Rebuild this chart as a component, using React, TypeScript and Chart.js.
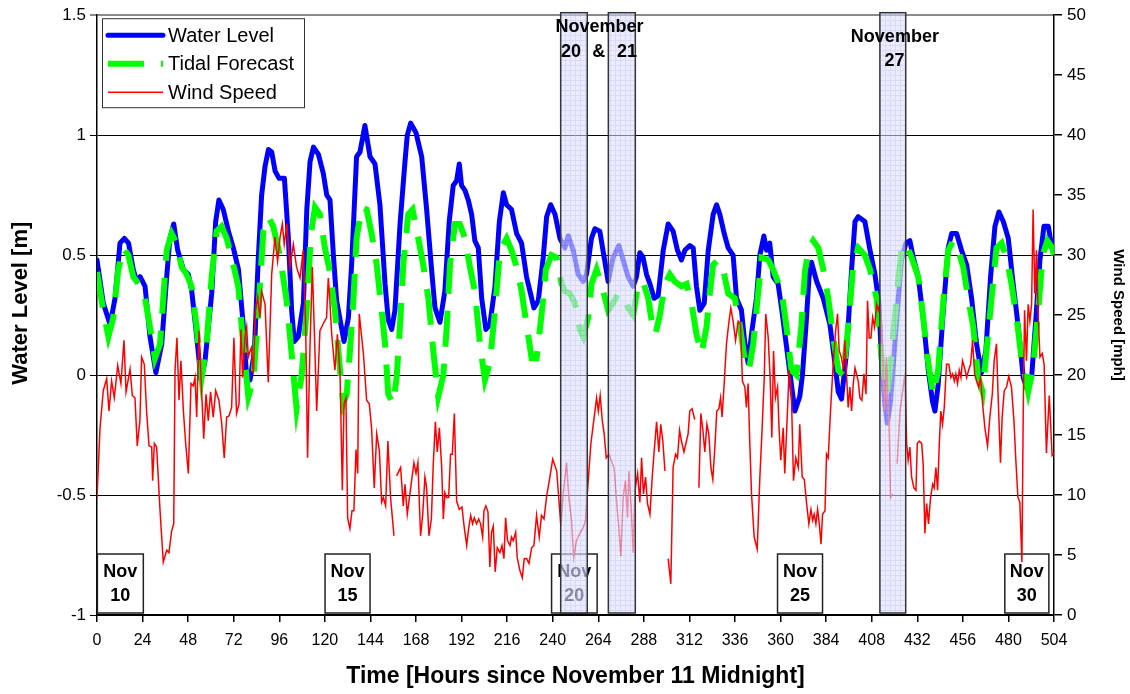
import React, { useEffect, useRef } from 'react';
import { Chart, registerables } from 'chart.js';

Chart.register(...registerables);

const FONT = '"Liberation Sans", Arial, Helvetica, sans-serif';

const xTicks = [0, 24, 48, 72, 96, 120, 144, 168, 192, 216, 240, 264, 288, 312, 336, 360, 384, 408, 432, 456, 480, 504];
const waterTicks = [-1, -0.5, 0, 0.5, 1, 1.5];
const windTicks = [0, 5, 10, 15, 20, 25, 30, 35, 40, 45, 50];

// [hour, metres]
const waterLevel: [number, number][] = [
  [0, 0.48], [3.3, 0.3], [6.9, 0.21], [9.5, 0.32], [12.1, 0.55], [14.4, 0.57], [16.6, 0.55], [19.1, 0.44], [20.9, 0.39], [22.7, 0.41],
  [25.3, 0.37], [27.9, 0.16], [31.0, 0.01], [34.1, 0.13], [36.7, 0.41], [38.4, 0.57], [40.4, 0.63], [42.5, 0.52], [45.5, 0.44], [48.1, 0.42],
  [49.9, 0.35], [52.5, 0.16], [54.8, -0.02], [56.9, 0.06], [60.4, 0.34], [62.5, 0.64], [64.2, 0.73], [66.5, 0.69], [69.2, 0.6], [71.8, 0.53],
  [74.5, 0.44], [77.1, 0.2], [78.8, -0.01], [80.6, -0.02], [82.9, 0.1], [84.9, 0.48], [86.7, 0.75], [88.5, 0.87], [90.3, 0.94], [92.0, 0.93],
  [93.8, 0.85], [95.9, 0.82], [98.7, 0.82], [100.8, 0.57], [102.5, 0.27], [103.9, 0.14], [106.0, 0.16], [108.7, 0.3], [110.5, 0.69], [112.2, 0.89],
  [114.0, 0.95], [116.6, 0.92], [119.2, 0.84], [121.0, 0.75], [122.7, 0.73], [124.5, 0.5], [126.2, 0.31], [130.1, 0.14], [132.4, 0.24], [134.1, 0.46],
  [136.7, 0.91], [138.5, 0.93], [141.1, 1.04], [143.8, 0.91], [146.4, 0.88], [149.0, 0.71], [151.7, 0.38], [153.4, 0.23], [155.2, 0.19], [156.9, 0.27],
  [159.6, 0.63], [162.2, 0.89], [163.4, 1.0], [165.2, 1.05], [168.0, 1.01], [169.2, 0.97], [171.0, 0.91], [173.6, 0.69], [176.2, 0.44], [178.0, 0.28],
  [180.6, 0.22], [183.2, 0.35], [185.5, 0.64], [187.6, 0.79], [189.4, 0.81], [190.8, 0.88], [192.0, 0.79], [193.8, 0.77], [195.5, 0.73], [197.3, 0.67],
  [199.0, 0.56], [200.8, 0.53], [202.6, 0.32], [204.8, 0.19], [206.9, 0.21], [209.6, 0.37], [211.9, 0.64], [214.0, 0.76], [215.7, 0.71], [218.3, 0.69],
  [221.0, 0.59], [223.6, 0.55], [226.2, 0.41], [228.0, 0.35], [230.1, 0.28], [232.4, 0.31], [235.0, 0.49], [236.8, 0.66], [238.9, 0.71], [241.2, 0.67],
  [243.8, 0.57], [246.4, 0.53], [248.2, 0.58], [250.8, 0.52], [253.4, 0.42], [256.1, 0.39], [257.8, 0.42], [260.4, 0.57], [262.2, 0.61], [264.8, 0.6],
  [267.1, 0.49], [269.2, 0.39], [271.8, 0.49], [274.8, 0.54], [277.1, 0.48], [279.7, 0.41], [282.4, 0.37], [284.1, 0.41], [285.9, 0.51], [287.6, 0.49],
  [289.4, 0.42], [291.2, 0.38], [293.4, 0.32], [295.5, 0.33], [298.2, 0.52], [300.8, 0.63], [303.4, 0.6], [305.7, 0.52], [307.8, 0.48], [309.6, 0.52],
  [312.2, 0.54], [314.0, 0.53], [315.7, 0.37], [317.5, 0.27], [319.8, 0.3], [321.9, 0.52], [324.5, 0.67], [326.3, 0.71], [328.0, 0.67], [330.3, 0.59],
  [332.4, 0.53], [335.0, 0.5], [336.8, 0.32], [339.4, 0.27], [341.2, 0.13], [342.9, 0.05], [345.0, 0.19], [347.3, 0.32], [349.1, 0.5], [351.2, 0.58],
  [352.6, 0.52], [354.3, 0.55], [356.1, 0.41], [358.7, 0.38], [360.5, 0.28], [363.1, 0.12], [365.4, -0.02], [367.5, -0.15], [370.1, -0.09], [371.5, 0.0],
  [373.5, 0.22], [375.0, 0.41], [376.3, 0.47], [379.0, 0.39], [382.5, 0.32], [386.0, 0.21], [388.6, 0.05], [390.4, -0.07], [392.1, -0.1], [394.8, 0.1],
  [397.4, 0.44], [399.2, 0.64], [400.9, 0.66], [404.4, 0.64], [407.1, 0.52], [409.7, 0.42], [411.8, 0.3], [413.2, 0.05], [414.9, -0.12], [416.2, -0.2],
  [417.9, -0.11], [420.2, 0.13], [422.0, 0.32], [423.7, 0.48], [426.0, 0.55], [428.1, 0.56], [429.9, 0.49], [432.5, 0.41], [435.1, 0.24], [437.8, 0.02],
  [440.0, -0.11], [441.3, -0.15], [443.0, -0.04], [445.7, 0.27], [448.3, 0.53], [450.1, 0.59], [452.7, 0.59], [455.3, 0.52], [458.0, 0.46], [460.6, 0.32],
  [463.2, 0.13], [465.8, 0.01], [468.1, 0.1], [470.6, 0.41], [472.9, 0.62], [475.0, 0.68], [477.3, 0.64], [479.9, 0.57], [482.5, 0.38], [485.2, 0.2],
  [487.8, -0.01], [489.9, -0.06], [492.2, -0.01], [494.5, 0.24], [496.6, 0.48], [498.7, 0.62], [501.0, 0.62], [502.5, 0.55], [504, 0.56],
];

// [hour, metres]
const tidalForecast: [number, number][] = [
  [0, 0.43], [3.3, 0.27], [6.0, 0.16], [8.6, 0.24], [11.2, 0.44], [13.9, 0.53], [16.5, 0.5], [19.1, 0.41], [21.8, 0.38], [25.3, 0.32],
  [27.9, 0.2], [30.5, 0.07], [33.2, 0.13], [34.9, 0.32], [36.7, 0.52], [39.3, 0.59], [41.9, 0.55], [44.6, 0.45], [47.2, 0.42], [49.8, 0.37],
  [52.5, 0.2], [55.1, -0.01], [57.7, 0.13], [60.4, 0.41], [63.0, 0.6], [65.6, 0.62], [68.3, 0.57], [70.9, 0.49], [74.4, 0.37], [77.0, 0.13],
  [79.7, -0.09], [82.3, -0.02], [85.0, 0.27], [87.6, 0.6], [90.2, 0.66], [92.8, 0.62], [96.3, 0.5], [99.9, 0.31], [102.5, 0.09], [105.1, -0.14],
  [107.8, 0.0], [110.4, 0.27], [112.7, 0.59], [114.8, 0.7], [117.4, 0.67], [120.0, 0.53], [122.7, 0.43], [125.3, 0.27], [128.0, 0.02], [129.7, -0.12],
  [131.5, -0.08], [133.2, 0.1], [135.0, 0.31], [136.7, 0.57], [139.4, 0.7], [142.0, 0.69], [144.6, 0.59], [147.3, 0.46], [149.9, 0.27], [151.7, 0.13],
  [153.4, -0.08], [156.0, -0.12], [157.8, -0.01], [159.6, 0.21], [161.3, 0.46], [163.9, 0.67], [166.2, 0.69], [169.2, 0.57], [171.8, 0.46], [174.5, 0.32],
  [177.1, 0.1], [179.7, -0.09], [182.4, 0.0], [184.1, 0.19], [185.9, 0.46], [188.5, 0.63], [191.1, 0.63], [193.8, 0.57], [196.4, 0.45], [199.0, 0.35],
  [201.7, 0.13], [204.3, -0.02], [206.9, 0.05], [209.6, 0.27], [212.2, 0.52], [215.7, 0.57], [218.3, 0.52], [221.0, 0.45], [223.6, 0.35], [226.2, 0.21],
  [228.9, 0.07], [231.5, 0.07], [234.1, 0.25], [236.4, 0.44], [239.4, 0.5], [242.0, 0.49], [244.7, 0.38], [246.4, 0.35], [249.0, 0.34], [251.7, 0.3],
  [254.3, 0.19], [256.1, 0.16], [258.7, 0.24], [260.4, 0.38], [263.1, 0.44], [266.6, 0.35], [269.2, 0.27], [271.8, 0.3], [274.5, 0.34], [277.1, 0.33],
  [279.7, 0.28], [282.4, 0.25], [285.0, 0.38], [287.6, 0.39], [290.3, 0.32], [292.4, 0.21], [294.1, 0.17], [296.4, 0.25], [299.1, 0.38], [301.7, 0.42],
  [304.3, 0.39], [307.8, 0.37], [310.5, 0.38], [313.1, 0.3], [315.7, 0.17], [318.4, 0.09], [321.0, 0.2], [322.7, 0.34], [324.5, 0.46], [327.1, 0.48],
  [329.8, 0.44], [332.4, 0.34], [335.9, 0.32], [338.5, 0.21], [341.2, 0.06], [343.3, 0.02], [345.6, 0.13], [347.3, 0.27], [350.0, 0.49], [353.5, 0.48],
  [356.1, 0.44], [360.5, 0.35], [363.1, 0.2], [365.7, 0.02], [368.4, 0.0], [371.0, 0.21], [372.8, 0.43], [374.6, 0.52], [377.2, 0.56], [379.9, 0.53],
  [382.5, 0.44], [385.1, 0.32], [387.7, 0.16], [390.4, 0.02], [393.0, 0.0], [395.6, 0.2], [398.3, 0.46], [400.9, 0.53], [404.4, 0.5], [407.1, 0.44],
  [410.6, 0.32], [413.2, 0.07], [416.2, -0.08], [419.0, 0.13], [421.1, 0.32], [423.7, 0.53], [426.0, 0.55], [429.0, 0.49], [432.5, 0.41], [435.1, 0.24],
  [437.8, 0.05], [440.4, -0.08], [443.0, 0.02], [445.7, 0.31], [448.3, 0.52], [450.9, 0.56], [453.6, 0.52], [456.2, 0.45], [458.8, 0.32], [461.5, 0.2],
  [464.1, -0.01], [466.4, -0.07], [468.8, 0.13], [471.1, 0.32], [473.7, 0.53], [476.4, 0.55], [479.0, 0.49], [481.6, 0.38], [484.3, 0.24], [486.9, 0.07],
  [490.4, -0.07], [493.0, 0.03], [495.7, 0.27], [498.0, 0.5], [500.5, 0.56], [503.0, 0.53], [504, 0.5],
];

// [hour, mph]  (null = gap in record)
const windSpeed: [number, number | null][] = [
  [0, 9.8], [1.6, 15.6], [3.3, 18.7], [5.1, 19.7], [6.3, 17.0], [7.7, 19.5], [9.1, 18.1], [10.9, 20.8], [12.6, 19.3], [14.2, 22.9],
  [15.3, 18.6], [17.4, 20.5], [18.6, 18.3], [20.0, 18.1], [21.2, 14.1], [22.6, 16.2], [23.5, 21.5], [24.9, 20.9], [26.1, 17.0], [27.4, 14.1],
  [28.8, 14.0], [29.3, 11.2], [30.2, 14.3], [31.4, 14.0], [33.2, 8.7], [34.9, 4.4], [36.7, 5.4], [37.9, 5.2], [39.3, 7.0], [40.4, 7.6],
  [41.1, 20.4], [42.1, 23.1], [43.2, 17.9], [44.2, 21.2], [45.5, 17.0], [46.7, 14.3], [48.1, 11.8], [49.5, 19.3], [50.7, 19.1], [51.6, 19.8],
  [52.5, 16.5], [53.7, 23.7], [55.1, 18.7], [56.2, 14.7], [57.4, 18.4], [58.6, 16.2], [59.8, 18.6], [61.2, 16.5], [62.5, 18.7], [64.2, 17.9],
  [65.6, 16.1], [67.0, 13.1], [68.3, 16.5], [69.5, 16.6], [70.9, 17.3], [72.1, 23.1], [73.5, 16.8], [74.8, 17.6], [75.8, 23.8], [76.7, 19.8],
  [77.9, 23.1], [78.8, 24.0], [79.7, 21.5], [80.6, 22.0], [81.4, 22.3], [82.3, 20.1], [83.5, 25.4], [84.6, 26.5], [85.8, 24.8], [86.7, 27.0],
  [88.5, 25.9], [90.2, 19.4], [92.0, 28.4], [93.7, 31.5], [95.1, 29.5], [96.4, 31.5], [97.6, 32.6], [98.6, 30.9], [100.0, 32.6], [101.6, 29.0],
  [103.4, 30.9], [105.1, 29.0], [106.9, 28.1], [108.6, 30.4], [109.9, 24.0], [110.9, 13.1], [112.2, 22.6], [113.4, 29.0], [114.4, 24.0], [115.7, 17.0],
  [117.4, 23.7], [119.2, 24.3], [120.9, 24.8], [121.8, 28.1], [122.7, 26.0], [123.6, 23.4], [125.3, 20.4], [126.6, 23.4], [128.0, 20.1], [129.2, 10.4],
  [130.1, 17.6], [131.1, 18.1], [132.0, 8.1], [133.2, 7.2], [134.3, 8.7], [135.3, 8.7], [136.4, 13.8], [137.3, 11.8], [138.1, 25.1], [140.3, 21.8],
  [142.0, 17.9], [143.4, 17.6], [144.6, 15.6], [146.0, 10.6], [147.3, 15.1], [148.7, 13.7], [149.9, 9.4], [150.8, 9.8], [152.0, 9.1], [153.2, 14.5],
  [154.6, 9.8], [156.4, 6.6], [157.1, null], [157.8, 11.6], [159.9, 12.3], [161.3, 9.1], [162.2, 10.9], [163.4, 8.4], [165.2, 10.6], [166.9, 12.7],
  [168.0, 11.8], [169.0, 12.7], [170.4, 6.6], [171.5, 8.3], [172.7, 11.5], [173.6, 10.6], [174.8, 6.6], [176.1, 8.0], [177.1, 12.6], [178.2, 16.1],
  [179.2, 13.6], [180.3, 15.6], [181.5, 12.4], [182.4, 8.0], [183.2, 10.2], [184.1, 9.8], [185.2, 9.8], [186.2, 13.4], [187.1, 13.4], [188.2, 16.8],
  [189.4, 9.5], [190.8, 8.8], [192.2, 9.0], [193.4, 7.3], [194.7, 5.8], [195.7, 7.2], [196.8, 8.3], [197.8, 7.6], [198.7, 8.1], [199.9, 7.6],
  [201.0, 8.0], [202.0, 7.6], [203.1, 6.5], [203.8, 8.7], [204.8, 9.1], [205.9, 8.6], [206.9, 4.0], [207.8, 6.9], [208.7, 7.4], [209.7, 3.6],
  [210.8, 5.6], [212.2, 5.2], [213.3, 5.8], [214.3, 4.7], [215.2, 8.1], [216.2, 6.2], [217.5, 5.8], [218.3, 6.5], [219.2, 6.2], [220.5, 6.9],
  [221.3, 4.8], [222.7, 3.7], [224.0, 3.1], [225.0, 4.7], [226.2, 4.7], [227.5, 4.3], [228.9, 5.6], [230.1, 5.8], [231.5, 8.3], [232.9, 6.5],
  [234.1, 8.3], [235.4, 8.0], [236.8, 9.9], [238.2, 11.2], [240.0, 13.0], [242.1, 12.0], [243.4, 9.3], [244.3, 7.4], [245.5, 10.1], [247.3, 12.7],
  [248.5, 9.8], [249.9, 7.9], [251.1, 4.8], [252.5, 6.2], [254.3, 6.8], [256.1, 7.3], [257.3, 7.9], [258.7, 11.2], [260.1, 14.3], [261.3, 15.8],
  [263.1, 18.1], [264.0, 17.0], [265.0, 18.3], [266.1, 16.2], [267.1, 15.1], [268.2, 13.1], [269.6, 13.4], [272.4, 12.2], [273.6, 9.5], [274.8, 7.3],
  [275.9, 4.9], [277.1, 9.8], [278.3, 11.2], [279.4, 8.1], [280.1, 12.0], [281.2, 9.3], [282.4, 5.2], [283.3, 10.4], [284.7, 11.8], [285.9, 9.4],
  [286.8, 13.1], [287.8, 10.1], [288.9, 11.5], [289.9, 9.3], [291.2, 8.4], [292.4, 11.5], [293.4, 13.6], [294.7, 16.1], [295.9, 13.6], [296.9, 15.9],
  [298.0, 14.5], [299.1, 12.0], [300.0, null], [300.8, 4.7], [302.2, 2.6], [303.4, 12.3], [304.7, 13.4], [305.7, 13.1], [306.8, 15.4], [307.8, 14.5],
  [309.1, 13.6], [310.3, 14.4], [311.3, 15.1], [312.2, 17.0], [313.4, 17.2], [314.8, 16.3], [316.0, null], [317.0, 10.6], [318.0, 16.8], [319.1, 15.4],
  [320.1, 13.6], [321.2, 15.9], [322.2, 15.1], [323.3, 12.3], [324.3, 11.3], [325.4, 14.0], [326.4, 17.0], [327.5, 17.2], [328.4, 18.1], [329.2, 16.5],
  [330.3, 19.3], [331.5, 22.6], [332.7, 24.3], [333.8, 25.6], [335.0, 24.5], [336.3, 22.9], [337.7, 24.5], [338.9, 24.3], [339.9, 19.5], [341.2, 19.0],
  [342.0, 17.3], [342.9, 19.3], [343.8, 14.3], [344.7, 10.1], [346.1, 6.5], [347.7, 5.5], [349.1, 11.5], [350.3, 15.6], [351.4, 19.8], [352.2, 25.1],
  [353.5, 23.1], [354.5, 19.8], [355.4, 14.8], [356.3, 22.0], [357.3, 18.1], [358.4, 19.0], [359.2, 15.6], [360.1, 12.9], [361.4, 15.6], [362.2, 11.8],
  [363.5, 16.5], [364.5, 20.4], [365.7, 18.4], [366.8, 11.2], [368.0, 13.1], [369.3, 12.3], [370.1, 15.9], [371.4, 11.5], [372.5, 11.3], [373.7, 9.3],
  [374.9, 7.6], [376.0, 8.8], [376.9, 7.9], [377.7, 8.4], [378.6, 7.6], [379.5, 8.8], [380.4, 7.6], [381.3, 5.9], [382.1, 8.4], [383.4, 8.7],
  [384.2, 13.4], [385.1, 13.1], [386.3, 17.0], [387.7, 20.9], [389.0, 23.7], [390.0, 25.1], [390.9, 22.0], [392.0, 21.5], [393.0, 20.6], [393.9, 22.9],
  [394.8, 19.8], [395.6, 17.3], [396.5, 19.0], [397.4, 17.0], [398.3, 19.3], [399.2, 20.6], [400.0, 20.1], [400.9, 19.5], [401.8, 18.1], [402.8, 17.9],
  [403.9, 20.1], [405.0, 18.4], [405.8, 26.2], [406.7, 23.1], [407.6, 23.1], [408.5, 24.8], [409.5, 24.0], [410.6, 25.9], [411.4, 25.4], [412.3, 25.9],
  [413.2, 24.0], [414.1, 19.8], [415.0, 17.0], [415.8, 21.5], [416.5, 17.6], [417.2, 15.6], [417.9, 9.8], [419.0, 10.1], [420.0, null], [421.4, 12.6],
  [422.9, 17.0], [425.5, 20.1], [426.4, 14.3], [427.2, 12.9], [428.1, 14.0], [429.0, 11.5], [430.2, 10.6], [431.3, 10.4], [432.0, 14.3], [433.0, 14.5],
  [434.3, 14.3], [435.1, 12.6], [436.0, 6.8], [436.9, 9.3], [437.9, 7.6], [439.0, 9.8], [440.1, 10.9], [440.9, 10.6], [441.8, 12.3], [442.7, 10.4],
  [443.6, 14.3], [444.4, 17.0], [445.3, 15.9], [446.2, 17.3], [447.4, 20.9], [448.6, 20.9], [449.7, 19.8], [450.6, 20.1], [451.5, 19.5], [452.3, 20.1],
  [453.2, 19.3], [454.1, 20.4], [455.0, 19.8], [455.8, 21.2], [456.9, 20.6], [458.0, 19.8], [459.0, 20.4], [460.1, 20.9], [461.1, 22.9], [462.2, 20.1],
  [463.2, 19.5], [464.3, 19.0], [465.3, 19.8], [466.4, 17.6], [467.6, 15.6], [469.0, 14.1], [470.2, 16.5], [471.5, 18.4], [472.5, 21.2], [473.7, 22.6],
  [474.6, 18.1], [475.8, 12.7], [476.7, 16.5], [477.8, 18.7], [479.0, 19.0], [480.2, 19.9], [481.6, 19.0], [482.9, 16.2], [483.9, 12.9], [485.0, 9.8],
  [486.0, 9.4], [487.1, 4.4], [487.8, 17.0], [488.5, 25.4], [489.5, 21.2], [490.4, 25.9], [491.3, 24.5], [492.2, 25.9], [493.0, 33.8], [493.9, 26.8],
  [494.8, 30.4], [495.7, 24.8], [496.6, 21.5], [497.8, 21.8], [498.8, 20.9], [500.0, 13.5], [501.5, 18.3], [503.0, 13.3], [504, 13.5],
];

// shaded periods [start hour, end hour]
const highlightSpans: [number, number][] = [[244.2, 258.2], [269.3, 283.5], [412.3, 425.9]];

// calendar-day boxes along the bottom
const dayBoxes: { from: number; to: number; month: string; day: string }[] = [
  { from: 0.2, to: 24.4, month: 'Nov', day: '10' },
  { from: 120.1, to: 143.8, month: 'Nov', day: '15' },
  { from: 239.4, to: 263.4, month: 'Nov', day: '20' },
  { from: 358.4, to: 382.1, month: 'Nov', day: '25' },
  { from: 478.1, to: 501.3, month: 'Nov', day: '30' },
];

// annotation texts above shaded periods: hour position, row index
const spanLabels: { hour: number; row: number; text: string }[] = [
  { hour: 264.6, row: 0, text: 'November' },
  { hour: 249.6, row: 1, text: '20' },
  { hour: 264.3, row: 1, text: '&' },
  { hour: 279.1, row: 1, text: '21' },
  { hour: 420.2, row: 2, text: 'November' },
  { hour: 420.0, row: 3, text: '27' },
];
const spanLabelRowOffsets = [12, 36.5, 21.7, 46];

const seriesNames = ['Water Level', 'Tidal Forecast', 'Wind Speed'];
const seriesColors = ['#0000FF', '#00FF00', '#FF0000'];
const axisTitles = { x: 'Time [Hours since November 11 Midnight]', left: 'Water Level [m]', right: 'Wind Speed [mph]' };

function makePattern(ctx: CanvasRenderingContext2D) {
  const c = document.createElement('canvas');
  c.width = 5;
  c.height = 5;
  const p = c.getContext('2d')!;
  p.fillStyle = 'rgb(226,226,255)';
  p.fillRect(0, 0, 5, 5);
  p.fillStyle = 'rgb(196,196,252)';
  p.fillRect(0, 0, 5, 1);
  p.fillRect(0, 0, 1, 5);
  return ctx.createPattern(c, 'repeat');
}

const annotationPlugin = {
  id: 'floodAnnotations',
  beforeDatasetsDraw(chart: any) {
    const { ctx, chartArea, scales } = chart;
    const x = scales.x;
    ctx.save();
    for (const b of dayBoxes) {
      const l = x.getPixelForValue(b.from);
      const r = x.getPixelForValue(b.to);
      const top = chartArea.bottom - 61;
      const bottom = chartArea.bottom - 2;
      ctx.fillStyle = '#ffffff';
      ctx.fillRect(l, top, r - l, bottom - top);
      ctx.strokeStyle = '#222';
      ctx.lineWidth = 1.5;
      ctx.strokeRect(l, top, r - l, bottom - top);
      ctx.fillStyle = '#000';
      ctx.font = `bold 18px ${FONT}`;
      ctx.textAlign = 'center';
      ctx.textBaseline = 'middle';
      ctx.fillText(b.month, (l + r) / 2, chartArea.bottom - 43);
      ctx.fillText(b.day, (l + r) / 2, chartArea.bottom - 19);
    }
    ctx.restore();
  },
  afterDatasetsDraw(chart: any) {
    const { ctx, chartArea, scales } = chart;
    const x = scales.x;
    ctx.save();
    const pattern = makePattern(ctx);
    for (const [a, b] of highlightSpans) {
      const l = x.getPixelForValue(a);
      const r = x.getPixelForValue(b);
      const top = chartArea.top - 2.5;
      const bottom = chartArea.bottom - 2;
      ctx.globalAlpha = 0.64;
      ctx.fillStyle = pattern || 'rgb(226,226,255)';
      ctx.fillRect(l, top, r - l, bottom - top);
      ctx.globalAlpha = 1;
      ctx.strokeStyle = '#333';
      ctx.lineWidth = 1.5;
      ctx.strokeRect(l, top, r - l, bottom - top);
    }
    ctx.fillStyle = '#000';
    ctx.font = `bold 18px ${FONT}`;
    ctx.textAlign = 'center';
    ctx.textBaseline = 'middle';
    for (const s of spanLabels) {
      ctx.fillText(s.text, x.getPixelForValue(s.hour), chartArea.top + spanLabelRowOffsets[s.row]);
    }
    ctx.restore();
  },
  afterDraw(chart: any) {
    const { ctx, chartArea } = chart;
    ctx.save();
    // left axis title
    ctx.fillStyle = '#000';
    ctx.font = `bold 22px ${FONT}`;
    ctx.textAlign = 'center';
    ctx.textBaseline = 'middle';
    ctx.translate(21, chartArea.top + 288);
    ctx.rotate(-Math.PI / 2);
    ctx.fillText(axisTitles.left, 0, 0);
    ctx.restore();

    ctx.save();
    const bx = chartArea.left + 5;
    const by = chartArea.top + 3;
    ctx.fillStyle = '#fff';
    ctx.fillRect(bx, by, 202, 89);
    ctx.strokeStyle = '#333';
    ctx.lineWidth = 1;
    ctx.strokeRect(bx + 0.5, by + 0.5, 202, 89);
    const rows = [by + 17, by + 45.5, by + 74];
    const widths = [5, 6, 1.5];
    rows.forEach((ry, i) => {
      ctx.beginPath();
      ctx.strokeStyle = seriesColors[i];
      ctx.lineWidth = widths[i];
      ctx.lineCap = i === 0 ? 'round' : 'butt';
      ctx.setLineDash(i === 1 ? [36, 17] : []);
      ctx.moveTo(bx + 6, ry);
      ctx.lineTo(bx + 61, ry);
      ctx.stroke();
      ctx.setLineDash([]);
      ctx.fillStyle = '#000';
      ctx.font = `20px ${FONT}`;
      ctx.textAlign = 'left';
      ctx.textBaseline = 'middle';
      ctx.fillText(seriesNames[i], bx + 66, ry + 1);
    });
    ctx.restore();
  },
};

export default function App() {
  const canvasRef = useRef<HTMLCanvasElement | null>(null);

  useEffect(() => {
    document.body.style.margin = '0';
    const canvas = canvasRef.current;
    if (!canvas) return;
    const chart = new Chart(canvas, {
      type: 'line',
      data: {
        datasets: [
          {
            label: seriesNames[0],
            data: waterLevel.map(([h, v]) => ({ x: h, y: v })),
            borderColor: seriesColors[0],
            borderWidth: 5,
            pointRadius: 0,
            tension: 0,
            borderJoinStyle: 'round',
            borderCapStyle: 'round',
            yAxisID: 'y',
            order: 3,
          },
          {
            label: seriesNames[1],
            data: tidalForecast.map(([h, v]) => ({ x: h, y: v })),
            borderColor: seriesColors[1],
            borderWidth: 6,
            borderDash: [36, 17],
            borderCapStyle: 'butt',
            pointRadius: 0,
            tension: 0,
            yAxisID: 'y',
            order: 2,
          },
          {
            label: seriesNames[2],
            data: windSpeed.map(([h, v]) => ({ x: h, y: v })),
            borderColor: seriesColors[2],
            borderWidth: 1.5,
            pointRadius: 0,
            tension: 0,
            spanGaps: false,
            yAxisID: 'y2',
            order: 1,
          },
        ],
      },
      options: {
        animation: false,
        responsive: false,
        devicePixelRatio: 1,
        layout: { padding: { top: 14, left: 0, right: 0, bottom: 0 } },
        plugins: { legend: { display: false }, tooltip: { enabled: false } },
        scales: {
          x: {
            type: 'linear',
            min: 0,
            max: 504,
            afterBuildTicks: (s: any) => {
              s.ticks = xTicks.map((v) => ({ value: v }));
            },
            afterFit: (s: any) => {
              s.height = 79;
            },
            ticks: { color: '#000', font: { family: FONT, size: 16 }, padding: 9, maxRotation: 0, autoSkip: false, callback: (v: any) => String(v) },
            grid: { drawOnChartArea: false, drawTicks: true, tickLength: 7, color: '#000', lineWidth: 1.5 },
            border: { color: '#000', width: 1.5 },
            title: {
              display: true,
              text: axisTitles.x,
              color: '#000',
              font: { family: FONT, size: 23, weight: 'bold' },
              padding: { top: 0, bottom: 4 },
            },
          },
          y: {
            type: 'linear',
            position: 'left',
            min: -1,
            max: 1.5,
            afterBuildTicks: (s: any) => {
              s.ticks = waterTicks.map((v) => ({ value: v }));
            },
            afterFit: (s: any) => {
              s.width = 97;
            },
            ticks: { color: '#000', font: { family: FONT, size: 17 }, padding: 4, callback: (v: any) => String(v) },
            grid: {
              color: (c: any) => (c.tick && c.tick.value === 1.5 ? '#8a8a8a' : '#000'),
              lineWidth: (c: any) => (c.tick && c.tick.value === 1.5 ? 2 : 1),
              tickLength: 7,
            },
            border: { color: '#000', width: 1.5 },
            title: { display: false },
          },
          y2: {
            type: 'linear',
            position: 'right',
            min: 0,
            max: 50,
            afterBuildTicks: (s: any) => {
              s.ticks = windTicks.map((v) => ({ value: v }));
            },
            afterFit: (s: any) => {
              s.width = 76;
            },
            ticks: { color: '#000', font: { family: FONT, size: 17 }, padding: 5, callback: (v: any) => String(v) },
            grid: { drawOnChartArea: false, tickLength: 8, color: '#000', lineWidth: 1.5 },
            border: { color: '#000', width: 1.5 },
            title: {
              display: true,
              text: axisTitles.right,
              color: '#000',
              font: { family: FONT, size: 15, weight: 'bold' },
              padding: { top: 3, bottom: 0 },
            },
          },
        },
      },
      plugins: [annotationPlugin],
    } as any);
    return () => chart.destroy();
  }, []);

  return (
    <div style={{ width: 1130, height: 694, background: '#fff' }}>
      <canvas ref={canvasRef} width={1130} height={694} />
    </div>
  );
}
